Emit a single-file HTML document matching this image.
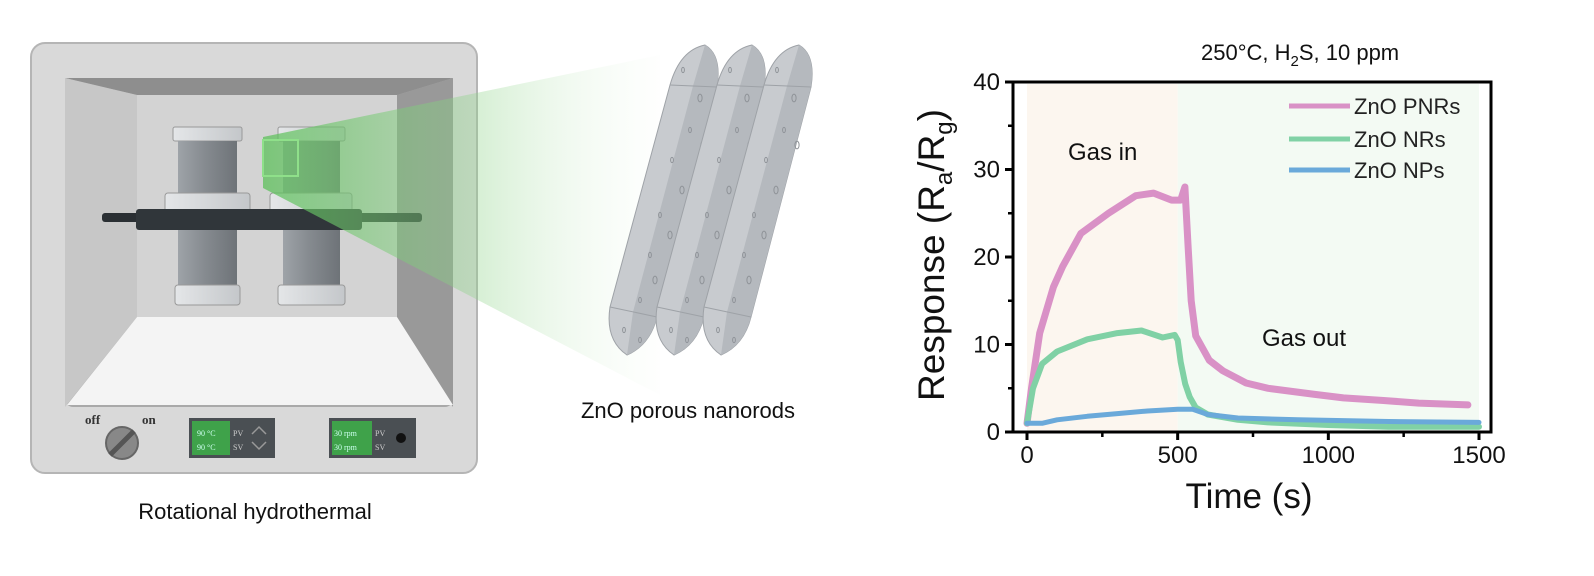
<!DOCTYPE html>
<html><head><meta charset="utf-8"><style>
html,body{margin:0;padding:0;background:#fff;}
body{width:1594px;height:571px;overflow:hidden;font-family:"Liberation Sans",sans-serif;}
</style></head><body>
<svg id="fig" width="1594" height="571" viewBox="0 0 1594 571" xmlns="http://www.w3.org/2000/svg">
<defs>
<linearGradient id="beam" x1="0" y1="0" x2="1" y2="0">
<stop offset="0" stop-color="#5cc05a" stop-opacity="0.75"/>
<stop offset="0.55" stop-color="#8fd48a" stop-opacity="0.35"/>
<stop offset="1" stop-color="#e6f6e4" stop-opacity="0.05"/>
</linearGradient>
<linearGradient id="cyl" x1="0" y1="0" x2="1" y2="0">
<stop offset="0" stop-color="#9ea3a8"/><stop offset="0.45" stop-color="#868b90"/><stop offset="1" stop-color="#6e7378"/>
</linearGradient>
<linearGradient id="cap" x1="0" y1="0" x2="1" y2="0">
<stop offset="0" stop-color="#e4e6e8"/><stop offset="1" stop-color="#c4c7ca"/>
</linearGradient>
</defs>

<g>
<rect x="31" y="43" width="446" height="430" rx="14" fill="#d9d9d9" stroke="#b5b5b5" stroke-width="2"/>
<rect x="65" y="78" width="388" height="329" rx="8" fill="#a9a9a9"/>
<polygon points="65,78 453,78 397,95 137,95" fill="#8e8e8e"/>
<polygon points="65,78 137,95 137,317 65,407" fill="#c7c7c7"/>
<polygon points="453,78 397,95 397,317 453,407" fill="#999"/>
<rect x="137" y="95" width="260" height="222" fill="#d3d3d3"/>
<polygon points="137,317 397,317 453,405 67,405" fill="#f4f4f4"/>
<g>
<rect x="173" y="127" width="69" height="14" rx="2" fill="url(#cap)" stroke="#999"/>
<rect x="178" y="141" width="59" height="57" fill="url(#cyl)"/>
<rect x="165" y="193" width="85" height="20" rx="3" fill="url(#cap)" stroke="#999"/>
<rect x="178" y="228" width="59" height="60" fill="url(#cyl)"/>
<rect x="175" y="285" width="65" height="20" rx="3" fill="url(#cap)" stroke="#999"/>
</g>
<g>
<rect x="278" y="127" width="67" height="14" rx="2" fill="url(#cap)" stroke="#999"/>
<rect x="283" y="141" width="57" height="57" fill="url(#cyl)"/>
<rect x="270" y="193" width="82" height="20" rx="3" fill="url(#cap)" stroke="#999"/>
<rect x="283" y="228" width="57" height="60" fill="url(#cyl)"/>
<rect x="278" y="285" width="67" height="20" rx="3" fill="url(#cap)" stroke="#999"/>
</g>
<rect x="102" y="213" width="320" height="9" rx="3" fill="#2a2f33"/>
<rect x="136" y="209" width="226" height="21" rx="3" fill="#30363a"/>
<circle cx="122" cy="443" r="16" fill="#888" stroke="#666" stroke-width="2"/>
<line x1="110" y1="455" x2="134" y2="431" stroke="#555" stroke-width="5"/>
<text x="85" y="424" font-family="Liberation Serif" font-weight="bold" font-size="13" fill="#333">off</text>
<text x="142" y="424" font-family="Liberation Serif" font-weight="bold" font-size="13" fill="#333">on</text>
<g>
<rect x="189" y="418" width="86" height="40" fill="#4a4f53"/>
<rect x="192" y="421" width="38" height="34" fill="#3fa24a"/>
<text x="197" y="436" font-family="Liberation Serif" font-size="8" fill="#cfe">90 °C</text>
<text x="197" y="450" font-family="Liberation Serif" font-size="8" fill="#cfe">90 °C</text>
<text x="233" y="436" font-family="Liberation Serif" font-size="8" fill="#ccc">PV</text>
<text x="233" y="450" font-family="Liberation Serif" font-size="8" fill="#ccc">SV</text>
<polyline points="252,434 259,427 266,434" fill="none" stroke="#999" stroke-width="1.5"/>
<polyline points="252,442 259,449 266,442" fill="none" stroke="#999" stroke-width="1.5"/>
</g>
<g>
<rect x="329" y="418" width="87" height="40" fill="#4a4f53"/>
<rect x="332" y="421" width="40" height="34" fill="#3fa24a"/>
<text x="334" y="436" font-family="Liberation Serif" font-size="8" fill="#cfe">30 rpm</text>
<text x="334" y="450" font-family="Liberation Serif" font-size="8" fill="#cfe">30 rpm</text>
<text x="375" y="436" font-family="Liberation Serif" font-size="8" fill="#ccc">PV</text>
<text x="375" y="450" font-family="Liberation Serif" font-size="8" fill="#ccc">SV</text>
<circle cx="401" cy="438" r="5" fill="#111"/>
</g>
</g>
<polygon points="263,137 660,55 660,395 263,188" fill="url(#beam)"/>
<rect x="263" y="140" width="35" height="36" fill="none" stroke="#8fe08a" stroke-width="2"/>

<g id="rods"></g>

<text x="255" y="519" text-anchor="middle" font-size="22" fill="#111">Rotational hydrothermal</text>
<text x="688" y="418" text-anchor="middle" font-size="22" fill="#111">ZnO porous nanorods</text>

<g id="chart"></g>

<text x="1201" y="60" font-family="Liberation Sans" font-size="22" fill="#111">250°C, H<tspan font-size="15" dy="6">2</tspan><tspan dy="-6">S, 10 ppm</tspan></text>
<text x="1068" y="160" font-family="Liberation Sans" font-size="24" fill="#111">Gas in</text>
<text x="1262" y="346" font-family="Liberation Sans" font-size="24" fill="#111">Gas out</text>
<text transform="translate(944,255) rotate(-90)" text-anchor="middle" font-family="Liberation Sans" font-size="37" fill="#111">Response (R<tspan font-size="24" dy="8">a</tspan><tspan dy="-8">/R</tspan><tspan font-size="24" dy="8">g</tspan><tspan dy="-8">)</tspan></text>
<text x="1249" y="508" text-anchor="middle" font-family="Liberation Sans" font-size="35" fill="#111">Time (s)</text>
</svg>
<script>
const NS='http://www.w3.org/2000/svg';
function mk(tag,attrs,parent){const e=document.createElementNS(NS,tag);for(const k in attrs)e.setAttribute(k,attrs[k]);parent.appendChild(e);return e;}

const rods=document.getElementById('rods');
[0,47,94].forEach((dx,i)=>{
  const g=mk('g',{transform:'translate('+dx+',0)'},rods);
  
  
  mk('path',{d:'M670,85 Q680,50 705,45 Q722,55 717,87 L657,317 Q650,345 627,355 Q605,340 610,307 Z',fill:'#c8cbcf',stroke:'#9ea2a7','stroke-width':1},g);
  mk('path',{d:'M693,86 L633,312 L627,355 Q650,345 657,317 L717,87 Q722,55 705,45 Z',fill:'#b5b9be'},g);
  mk('line',{x1:670,y1:85,x2:717,y2:87,stroke:'#9ea2a7'},g);
  mk('line',{x1:610,y1:307,x2:657,y2:317,stroke:'#9ea2a7'},g);
  [[683,70,2],[700,98,3],[690,130,2],[703,145,3],[672,160,2],[682,190,3],[660,215,2],[670,235,3],[650,255,2],[655,280,3],[640,300,2],[624,330,2],[640,340,2]].forEach(p=>{
    mk('ellipse',{cx:p[0],cy:p[1],rx:p[2]*0.7,ry:p[2]*1.3,fill:'none',stroke:'#8f9398','stroke-width':1},g);
  });
});

const timesPNR=[0,15,42,88,118,179,270,361,420,480,510,524,535,545,560,605,650,727,800,955,1050,1183,1300,1463];
const valsPNR=[1,5,11.3,16.6,18.9,22.7,25,27,27.3,26.5,26.5,28,21,15,11,8.2,7,5.6,5,4.3,3.9,3.6,3.3,3.1];
const timesNR=[0,20,50,100,200,300,380,450,490,500,510,525,540,560,600,700,800,1000,1200,1500];
const valsNR=[1,5,7.8,9.2,10.6,11.3,11.6,10.8,11.1,10.5,8,5.5,4,2.8,2,1.4,1.1,0.8,0.6,0.6];
const timesNP=[0,50,100,200,300,400,500,550,600,700,900,1200,1500];
const valsNP=[1,1,1.4,1.8,2.1,2.4,2.6,2.6,2.0,1.6,1.4,1.2,1.1];
const xTicks=[0,500,1000,1500];
const yTicks=[0,10,20,30,40];
const seriesNames=['ZnO PNRs','ZnO NRs','ZnO NPs'];
const seriesColors=['#d991c6','#80d1a5','#6aa9da'];

const X0=1027,X1=1479,YB=432,YT=82;
const xs=t=>X0+(t/1500)*(X1-X0);
const ys=v=>YB-(v/40)*(YB-YT);
const ch=document.getElementById('chart');

let r=mk('rect',{x:xs(0),y:YT+2,width:xs(500)-xs(0),height:YB-YT-2,fill:'#fcf6ef'},ch);


r=mk('rect',{x:xs(500),y:YT+2,width:xs(1500)-xs(500),height:YB-YT-2,fill:'#f3faf3'},ch);



const series=[[timesPNR,valsPNR],[timesNR,valsNR],[timesNP,valsNP]];
const widths=[7,6,5];
series.forEach((s,i)=>{
  const d=s[0].map((t,j)=>(j?'L':'M')+xs(t).toFixed(1)+','+ys(s[1][j]).toFixed(1)).join(' ');
  const p=mk('path',{d:d,fill:'none',stroke:seriesColors[i],'stroke-width':widths[i],'stroke-linejoin':'round','stroke-linecap':'round'},ch);
  
  
});

const ax=mk('rect',{x:1013,y:YT,width:X1+12-1013,height:YB-YT,fill:'none',stroke:'#000','stroke-width':3},ch);



yTicks.forEach(v=>{
  mk('line',{x1:1005,y1:ys(v),x2:1013,y2:ys(v),stroke:'#000','stroke-width':3},ch);
  const t=mk('text',{x:1000,y:ys(v)+8,'text-anchor':'end','font-size':24,fill:'#111'},ch);
  t.textContent=v;
  
  
});
for(let v=5;v<40;v+=10){mk('line',{x1:1008,y1:ys(v),x2:1013,y2:ys(v),stroke:'#000','stroke-width':2.5},ch);}
xTicks.forEach(v=>{
  mk('line',{x1:xs(v),y1:YB,x2:xs(v),y2:YB+8,stroke:'#000','stroke-width':3},ch);
  const t=mk('text',{x:xs(v),y:YB+31,'text-anchor':'middle','font-size':24,fill:'#111'},ch);
  t.textContent=v;
  
  
});
for(let v=250;v<1500;v+=500){mk('line',{x1:xs(v),y1:YB,x2:xs(v),y2:YB+5,stroke:'#000','stroke-width':2.5},ch);}

seriesNames.forEach((n,i)=>{
  const y=[106,139,170][i];
  const l=mk('line',{x1:1289,y1:y,x2:1350,y2:y,stroke:seriesColors[i],'stroke-width':5},ch);
  
  
  const t=mk('text',{x:1354,y:y+8,'font-size':22,fill:'#222'},ch);
  t.textContent=n;
  
  
});
</script>
</body></html>
